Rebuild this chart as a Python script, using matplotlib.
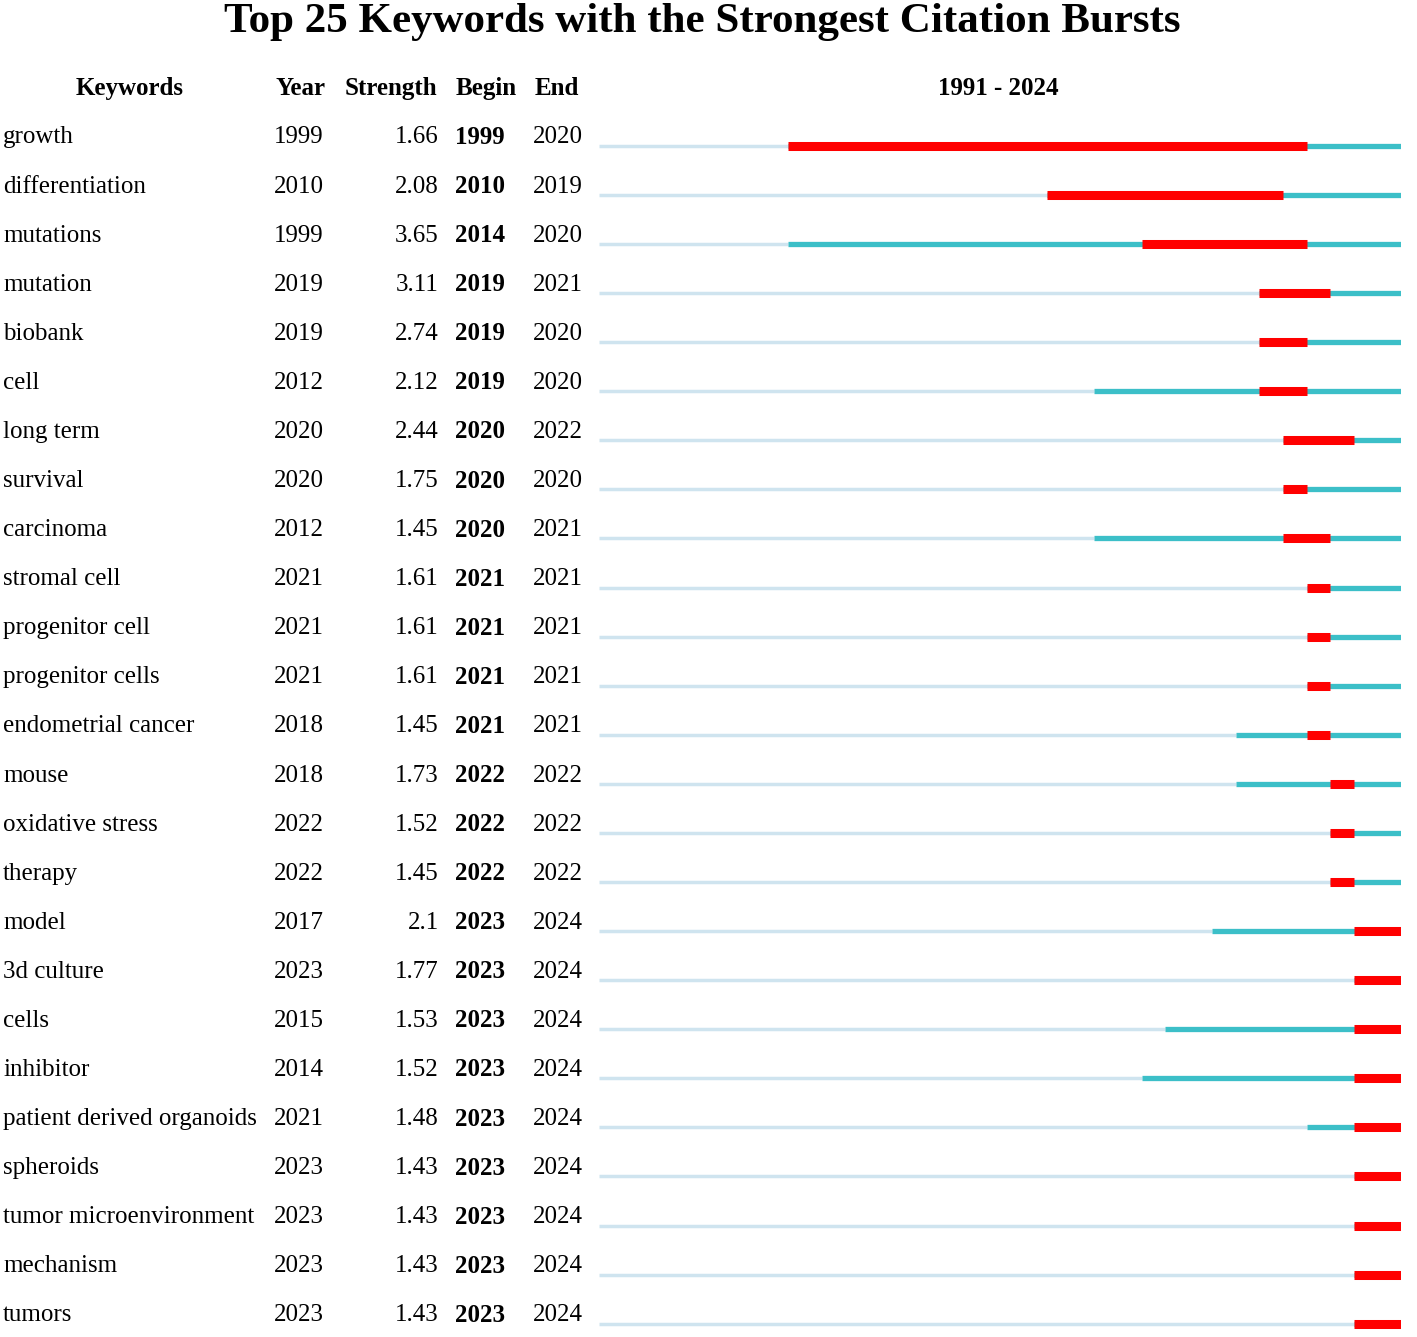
import matplotlib.pyplot as plt

keywords = ["growth", "differentiation", "mutations", "mutation", "biobank", "cell",
            "long term", "survival", "carcinoma", "stromal cell", "progenitor cell",
            "progenitor cells", "endometrial cancer", "mouse", "oxidative stress",
            "therapy", "model", "3d culture", "cells", "inhibitor",
            "patient derived organoids", "spheroids", "tumor microenvironment",
            "mechanism", "tumors"]
year = [1999, 2010, 1999, 2019, 2019, 2012, 2020, 2020, 2012, 2021, 2021, 2021, 2018,
        2018, 2022, 2022, 2017, 2023, 2015, 2014, 2021, 2023, 2023, 2023, 2023]
strength = ["1.66", "2.08", "3.65", "3.11", "2.74", "2.12", "2.44", "1.75", "1.45", "1.61",
            "1.61", "1.61", "1.45", "1.73", "1.52", "1.45", "2.1", "1.77", "1.53", "1.52",
            "1.48", "1.43", "1.43", "1.43", "1.43"]
begin = [1999, 2010, 2014, 2019, 2019, 2019, 2020, 2020, 2020, 2021, 2021, 2021, 2021,
         2022, 2022, 2022, 2023, 2023, 2023, 2023, 2023, 2023, 2023, 2023, 2023]
end = [2020, 2019, 2020, 2021, 2020, 2020, 2022, 2020, 2021, 2021, 2021, 2021, 2021,
       2022, 2022, 2022, 2024, 2024, 2024, 2024, 2024, 2024, 2024, 2024, 2024]
first_year, last_year = 1991, 2024

plt.rcParams['font.family'] = ['Liberation Serif', 'DejaVu Serif']

W, H = 1417, 1337
fig = plt.figure(figsize=(W / 100, H / 100), dpi=100)

n = len(keywords)
row0, step = 136, 49.08
top_px = row0 - 1.5 * step
bot_row = (H - row0) / step
ylim = (bot_row, -1.5)
ax_h = (H - top_px) / H

# table text axes (pixel x)
tx = fig.add_axes([0, 0, 1, ax_h])
tx.set_xlim(0, W)
tx.set_ylim(*ylim)
tx.axis('off')

# timeline axes (years)
tl = fig.add_axes([599 / W, 0, (1401 - 599) / W, ax_h])
tl.set_xlim(first_year, last_year + 1)
tl.set_ylim(*ylim)
tl.axis('off')

fs = 18
dy = 0.03
hdr = dict(fontsize=fs, fontweight='bold', va='center')
tx.text(130, -1 + dy, "Keywords", ha='center', **hdr)
tx.text(301, -1 + dy, "Year", ha='center', **hdr)
tx.text(391, -1 + dy, "Strength", ha='center', **hdr)
tx.text(486, -1 + dy, "Begin", ha='center', **hdr)
tx.text(557, -1 + dy, "End", ha='center', **hdr)
tx.text(998, -1 + dy, f"{first_year} - {last_year}", ha='center', **hdr)

for i in range(n):
    y = i + dy
    tx.text(3, y, keywords[i], fontsize=fs, va='center', ha='left')
    tx.text(298.5, y, str(year[i]), fontsize=fs, va='center', ha='center')
    tx.text(439, y, strength[i], fontsize=fs, va='center', ha='right')
    tx.text(480, y, str(begin[i]), fontsize=fs, va='center', ha='center', fontweight='bold')
    tx.text(558, y, str(end[i]), fontsize=fs, va='center', ha='center')

    yl = i + 0.2
    tl.hlines(yl, first_year, year[i], color='#cfe4ef', lw=2.5)
    tl.hlines(yl, year[i], last_year + 1, color='#3cbfc8', lw=3.8)
    tl.hlines(yl, begin[i], end[i] + 1, color='#ff0000', lw=6.5)

fig.text(702 / W, 1 - 32 / H, "Top 25 Keywords with the Strongest Citation Bursts",
         ha='center', va='baseline', fontsize=31, fontweight='bold')

fig.savefig("out.png", dpi=100, facecolor='white')
